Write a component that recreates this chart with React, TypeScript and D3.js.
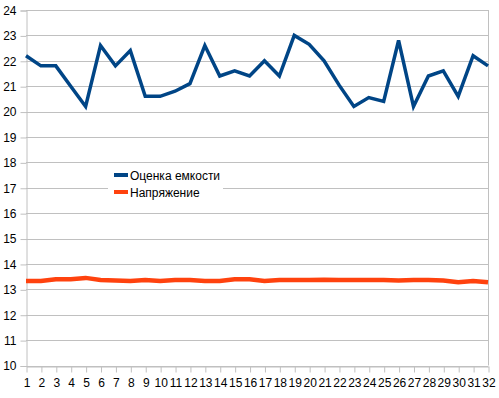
import React, { useEffect, useRef } from "react";
import * as d3 from "d3";

// categories 1..32
const days = [
  1, 2, 3, 4, 5, 6, 7, 8, 9, 10, 11, 12, 13, 14, 15, 16, 17, 18, 19, 20, 21,
  22, 23, 24, 25, 26, 27, 28, 29, 30, 31, 32,
];

const capacity = [
  22.2, 21.8, 21.8, 21.0, 20.2, 22.6, 21.8, 22.4, 20.6, 20.6, 20.8, 21.1, 22.6,
  21.4, 21.6, 21.4, 22.0, 21.4, 23.0, 22.65, 22.0, 21.05, 20.2, 20.55, 20.4,
  22.8, 20.2, 21.4, 21.6, 20.6, 22.2, 21.8,
];

const voltage = [
  13.33, 13.33, 13.4, 13.4, 13.45, 13.37, 13.35, 13.33, 13.37, 13.33, 13.37,
  13.37, 13.33, 13.33, 13.4, 13.4, 13.33, 13.37, 13.37, 13.37, 13.38, 13.37,
  13.37, 13.37, 13.37, 13.35, 13.37, 13.37, 13.35, 13.28, 13.33, 13.28,
];

const yTicks = [10, 11, 12, 13, 14, 15, 16, 17, 18, 19, 20, 21, 22, 23, 24];

const seriesNames = ["Оценка емкости", "Напряжение"];
const seriesColors = ["#004586", "#ff420e"];

function App() {
  const ref = useRef<SVGSVGElement>(null);

  useEffect(() => {
    const width = 499;
    const height = 398;
    const left = 26;
    const right = 488;
    const top = 10;
    const bottom = 365.5;

    const svg = d3.select(ref.current);
    svg.selectAll("*").remove();

    const xScale = d3.scalePoint<number>().domain(days).range([left, right]);
    const yScale = d3.scaleLinear().domain([10, 24]).range([bottom, top]);

    const font = "'Liberation Sans', Arial, sans-serif";

    // horizontal grid
    svg
      .append("g")
      .selectAll("line")
      .data(yTicks)
      .join("line")
      .attr("x1", left)
      .attr("x2", right)
      .attr("y1", (d) => Math.round(yScale(d)) + 0.5)
      .attr("y2", (d) => Math.round(yScale(d)) + 0.5)
      .attr("stroke", "#c0c0c0");

    // right border
    svg
      .append("line")
      .attr("x1", right + 0.5)
      .attr("x2", right + 0.5)
      .attr("y1", top)
      .attr("y2", bottom)
      .attr("stroke", "#c0c0c0");

    // y axis
    const yAxis = svg
      .append("g")
      .attr("transform", `translate(${left + 0.5},0.5)`)
      .call(
        d3
          .axisLeft(yScale)
          .tickValues(yTicks)
          .tickSize(6)
          .tickPadding(4)
          .tickFormat((d) => String(d))
      );
    yAxis.selectAll("path,line").attr("stroke", "#c0c0c0");
    yAxis
      .selectAll("text")
      .attr("font-family", font)
      .attr("font-size", 12)
      .attr("fill", "#000");

    // x axis
    const xAxis = svg
      .append("g")
      .attr("transform", `translate(0.5,${Math.round(bottom) + 0.5})`)
      .call(d3.axisBottom(xScale).tickSize(6).tickPadding(6).tickSizeOuter(0));
    xAxis.selectAll("path,line").attr("stroke", "#c0c0c0");
    xAxis
      .selectAll("text")
      .attr("font-family", font)
      .attr("font-size", 12)
      .attr("fill", "#000");

    const line = d3
      .line<number>()
      .x((v, i) => xScale(days[i])!)
      .y((v) => yScale(v));

    svg
      .append("path")
      .datum(capacity)
      .attr("d", line)
      .attr("fill", "none")
      .attr("stroke", seriesColors[0])
      .attr("stroke-width", 3.5)
      .attr("stroke-linejoin", "miter");

    svg
      .append("path")
      .datum(voltage)
      .attr("d", line)
      .attr("fill", "none")
      .attr("stroke", seriesColors[1])
      .attr("stroke-width", 4.5);

    // legend
    const legend = svg.append("g").attr("transform", "translate(108,165)");
    legend
      .append("rect")
      .attr("width", 115)
      .attr("height", 36)
      .attr("fill", "#fff");
    seriesNames.forEach((name, i) => {
      const g = legend.append("g").attr("transform", `translate(6,${10 + i * 17})`);
      g.append("rect")
        .attr("x", 0)
        .attr("y", -2)
        .attr("width", 14)
        .attr("height", 4)
        .attr("fill", seriesColors[i]);
      g.append("text")
        .attr("x", 16)
        .attr("y", 4.5)
        .attr("font-family", font)
        .attr("font-size", 12)
        .attr("fill", "#000")
        .text(name);
    });

    svg.attr("width", width).attr("height", height);
  }, []);

  return (
    <svg
      ref={ref}
      width={499}
      height={398}
      style={{ position: "absolute", left: 0, top: 0, background: "#fff" }}
    />
  );
}

export default App;
